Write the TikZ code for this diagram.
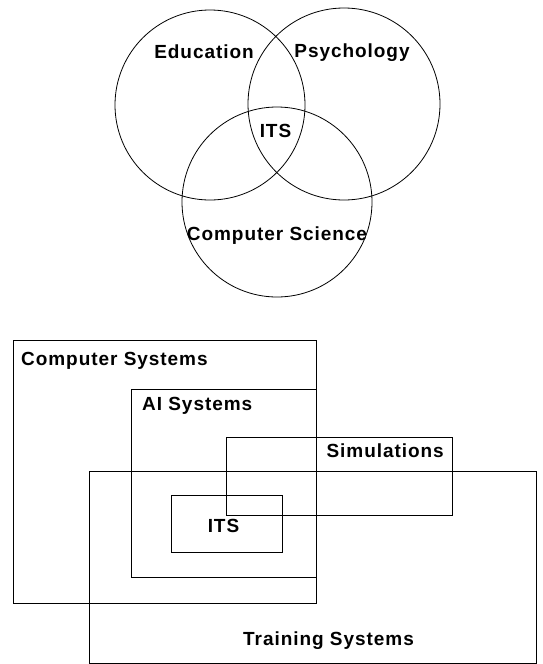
\documentclass[tikz,border=0pt]{standalone}
\usepackage{fontspec}
\setmainfont{Liberation Sans}[LetterSpace=5]
\begin{document}
\begin{tikzpicture}[x=1pt,y=-1pt,
  outline/.style={draw=black,line width=0.8pt},
  lbl/.style={font=\fontsize{19}{22}\selectfont\bfseries,inner sep=0pt}]
\useasboundingbox (0,0) rectangle (543,664);

% Venn diagram of the three disciplines
\draw[outline] (210,105) circle (95);
\draw[outline] (344,104) circle (96);
\draw[outline] (277,202) circle (95);
\node[lbl,anchor=base] (edu) at (204,58) {Education};
\node[lbl,anchor=base] (psy) at (352,57) {Psychology};
\node[lbl,anchor=base] (itsv) at (275.5,137) {ITS};
\node[lbl,anchor=base] (cs) at (277,240) {Computer Science};

% Nested system categories
\draw[outline] (13,340) rectangle (316,603);
\draw[outline] (131,389) rectangle (316,577);
\draw[outline] (171,495) rectangle (282,552);
\draw[outline] (226,437) rectangle (452,515);
\draw[outline] (89,471) rectangle (536,663);
\node[lbl,anchor=base west] (csys) at (21,365) {Computer Systems};
\node[lbl,anchor=base west] (ai) at (142,410) {AI Systems};
\node[lbl,anchor=base east] (sim) at (444,457) {Simulations};
\node[lbl,anchor=base] (itsb) at (223.5,532) {ITS};
\node[lbl,anchor=base west] (train) at (243,645) {Training Systems};
\end{tikzpicture}
\end{document}
